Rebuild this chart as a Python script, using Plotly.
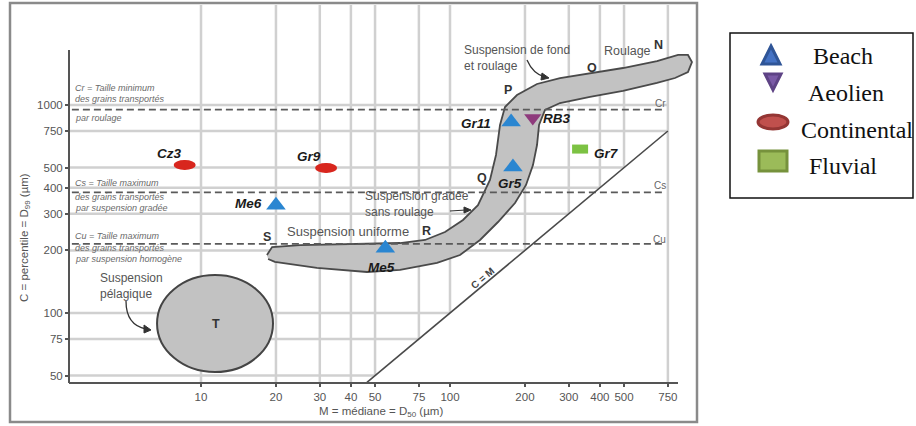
import numpy as np
import plotly.graph_objects as go

# ---------------- data ----------------
beach_names = ["Me6", "Me5", "Gr11", "Gr5"]
beach_M = [20, 55, 176, 179]
beach_C = [330, 205, 829, 503]

aeolien_names = ["RB3"]
aeolien_M = [215]
aeolien_C = [866]

continental_names = ["Cz3", "Gr9"]
continental_M = [8.6, 31.8]
continental_C = [515, 498]

fluvial_names = ["Gr7"]
fluvial_M = [333]
fluvial_C = [614]

x_ticks = [10, 20, 30, 40, 50, 75, 100, 200, 300, 400, 500, 750]
y_ticks = [50, 75, 100, 200, 300, 400, 500, 750, 1000]

Cr_value, Cs_value, Cu_value = 950, 380, 215
line_limits_M = [3.03, 730]          # extent of the Cr / Cs / Cu dashed lines
cm_line_M = [46.4, 750]              # C = M line

# Passega band (outline in M, C values, µm)
band_M = [18.4, 19.3, 25.0, 39.7, 63.0, 79.4, 95.5, 112.8, 129.5, 144.7, 153, 158.8,
          166.3, 185.8, 223.6, 276.6, 365, 495, 678, 824, 903, 937, 903, 801, 678,
          495, 365, 276.6, 240.7, 227.8, 223.6, 215.4, 202, 182.4, 155.9, 132,
          109.7, 88.7, 63.0, 46.4, 29.2, 19.8, 18.6]
band_C = [190, 207.6, 212, 214.6, 217, 224.4, 245, 280, 330, 436, 575, 801,
          978, 1117, 1262, 1348, 1425, 1506, 1627, 1740, 1740, 1609, 1441, 1348, 1276,
          1168, 1093, 1022, 946, 801, 642, 514, 412.6, 338, 273.8, 224.4,
          190, 174, 161, 157.4, 164.6, 176, 181.8]

# pelagic suspension zone T (bounding box, µm)
T_M = [6.66, 19.46]
T_C = [52.0, 152.3]

# ---------------- geometry / style ----------------
W, H = 916, 426
L, R, T, B = 69, 697, 5, 383
PX_DEC_X, PX_DEC_Y = 249, 208
x_range = [1 + (L - 201) / PX_DEC_X, 1 + (R - 201) / PX_DEC_X]
y_range = [3 - (B - 105) / PX_DEC_Y, 3 + (105 - T) / PX_DEC_Y]
C_top = 10 ** y_range[1]
C_bot = 10 ** y_range[0]
M_left = 10 ** x_range[0]


def px(x):
    return (x - L) / (R - L)


def py(y):
    return (B - y) / (B - T)


def P(x, y):
    return f"{px(x):.5f},{py(y):.5f}"


def box(m, c, wpx, hpx):
    fx = 10 ** (wpx / 2 / PX_DEC_X)
    fy = 10 ** (hpx / 2 / PX_DEC_Y)
    return dict(x0=m / fx, x1=m * fx, y0=c / fy, y1=c * fy)


FONT = "Liberation Sans, Arial, sans-serif"
SERIF = "Liberation Serif, Times New Roman, serif"
GRID = "#d0d0d0"
DARK = "#555555"
BAND_FILL = "#c2c2c2"
RED = "#d8261e"
GREEN = "#7cc243"

fig = go.Figure()

shapes = []
# grid (restricted to the C >= M half)
for m in x_ticks:
    y0 = C_bot if m >= 750 else max(m, C_bot)
    shapes.append(dict(type="line", xref="x", yref="y", x0=m, x1=m, y0=y0, y1=C_top,
                       line=dict(color=GRID, width=2.5), layer="below"))
for c in y_ticks:
    shapes.append(dict(type="line", xref="x", yref="y", x0=M_left, x1=min(c, 750), y0=c, y1=c,
                       line=dict(color=GRID, width=2.5), layer="below"))
# T zone
shapes.append(dict(type="circle", xref="x", yref="y", x0=T_M[0], x1=T_M[1], y0=T_C[0], y1=T_C[1],
                   fillcolor=BAND_FILL, line=dict(color="#444", width=2), layer="below"))

# band
fig.add_trace(go.Scatter(x=band_M, y=band_C, mode="lines", fill="toself", fillcolor=BAND_FILL,
                         line=dict(color="#4a4a4a", width=1.8), hoverinfo="skip", showlegend=False))
# dashed limits
for cv in [Cr_value, Cs_value, Cu_value]:
    fig.add_trace(go.Scatter(x=line_limits_M, y=[cv, cv], mode="lines",
                             line=dict(color="#5a5a5a", width=1.6, dash="7px,4px"),
                             hoverinfo="skip", showlegend=False))
# C = M
fig.add_trace(go.Scatter(x=cm_line_M, y=cm_line_M, mode="lines",
                         line=dict(color="#4a4a4a", width=1.6), hoverinfo="skip", showlegend=False))

# markers
fig.add_trace(go.Scatter(x=beach_M, y=beach_C, mode="markers", name="Beach",
                         marker=dict(symbol="triangle-up", size=17, color="#2a86d1", line=dict(width=0)),
                         showlegend=False))
fig.add_trace(go.Scatter(x=aeolien_M, y=aeolien_C, mode="markers", name="Aeolien",
                         marker=dict(symbol="triangle-down", size=15, color="#8e3a7c", line=dict(width=0)),
                         showlegend=False))
fig.add_trace(go.Scatter(x=continental_M, y=continental_C, mode="markers", name="Continental",
                         marker=dict(symbol="circle", size=9, color=RED, line=dict(width=0)),
                         showlegend=False))
fig.add_trace(go.Scatter(x=fluvial_M, y=fluvial_C, mode="markers", name="Fluvial",
                         marker=dict(symbol="square", size=8, color=GREEN, line=dict(width=0)),
                         showlegend=False))
for m, c in zip(continental_M, continental_C):
    shapes.append(dict(type="circle", xref="x", yref="y", **box(m, c, 22, 10),
                       fillcolor=RED, line=dict(width=0), layer="above"))
for m, c in zip(fluvial_M, fluvial_C):
    shapes.append(dict(type="rect", xref="x", yref="y", **box(m, c, 16, 9),
                       fillcolor=GREEN, line=dict(width=0), layer="above"))

# axis lines
shapes.append(dict(type="line", xref="paper", yref="paper", x0=px(69), x1=px(678), y0=py(383), y1=py(383),
                   line=dict(color=DARK, width=2), layer="above"))
shapes.append(dict(type="line", xref="paper", yref="paper", x0=px(69), x1=px(69), y0=py(383), y1=py(50),
                   line=dict(color=DARK, width=2), layer="above"))
# frame
shapes.append(dict(type="rect", xref="paper", yref="paper", x0=px(10), x1=px(697), y0=py(422), y1=py(3),
                   line=dict(color="#8a8a8a", width=2.5), layer="above"))
# curved arrows
shapes.append(dict(type="path", xref="paper", yref="paper",
                   path=f"M{P(527,60)} Q{P(533,74)} {P(545,77)}", line=dict(color="#333", width=1.3)))
shapes.append(dict(type="path", xref="paper", yref="paper",
                   path=f"M{P(549,78)} L{P(542,73)} L{P(541,80)} Z", fillcolor="#333", line=dict(color="#333", width=1)))
shapes.append(dict(type="path", xref="paper", yref="paper",
                   path=f"M{P(126,301)} Q{P(126,325)} {P(146,329)}", line=dict(color="#333", width=1.3)))
shapes.append(dict(type="path", xref="paper", yref="paper",
                   path=f"M{P(151,330)} L{P(144,325)} L{P(144,333)} Z", fillcolor="#333", line=dict(color="#333", width=1)))
shapes.append(dict(type="path", xref="paper", yref="paper",
                   path=f"M{P(450,211)} L{P(466,210)}", line=dict(color="#333", width=1.2)))
shapes.append(dict(type="path", xref="paper", yref="paper",
                   path=f"M{P(471,210)} L{P(464,207)} L{P(464,213)} Z", fillcolor="#333", line=dict(color="#333", width=1)))

# legend box and symbols
shapes.append(dict(type="rect", xref="paper", yref="paper", x0=px(730), x1=px(913), y0=py(198), y1=py(33),
                   line=dict(color="#111", width=1.5), fillcolor="white", layer="above"))
shapes.append(dict(type="path", xref="paper", yref="paper",
                   path=f"M{P(771,46)} L{P(780,64)} L{P(762,64)} Z", fillcolor="#4472c4",
                   line=dict(color="#2f5597", width=3), layer="above"))
shapes.append(dict(type="path", xref="paper", yref="paper",
                   path=f"M{P(765,74)} L{P(781,74)} L{P(773,90)} Z", fillcolor="#7a5aa6",
                   line=dict(color="#5e4385", width=3), layer="above"))
shapes.append(dict(type="circle", xref="paper", yref="paper", x0=px(758), x1=px(788), y0=py(129), y1=py(115),
                   fillcolor="#c0504d", line=dict(color="#943634", width=3), layer="above"))
shapes.append(dict(type="rect", xref="paper", yref="paper", x0=px(759), x1=px(787), y0=py(171), y1=py(151),
                   fillcolor="#9bbb59", line=dict(color="#76923c", width=3), layer="above"))

annotations = []


def txt(x, y, s, size=11, color="#444", anchor="left", bold=False, italic=False, font=FONT, angle=0,
        align="left"):
    if bold:
        s = f"<b>{s}</b>"
    if italic:
        s = f"<i>{s}</i>"
    annotations.append(dict(x=px(x), y=py(y), xref="paper", yref="paper", text=s, showarrow=False,
                            xanchor=anchor, yanchor="middle", textangle=angle, align=align,
                            font=dict(family=font, size=size, color=color)))


# limit definitions
defs = [("Cr = Taille minimum", 88), ("des grains transportés", 99), ("par roulage", 118),
        ("Cs = Taille maximum", 183), ("des grains transportés", 197), ("par suspension gradée", 208),
        ("Cu = Taille maximum", 236), ("des grains transportés", 248), ("par suspension homogène", 259)]
for s, y in defs:
    txt(73, y, s, size=9, color="#6a6a6a", italic=True)
txt(668, 104, "Cr", size=10, color="#666", anchor="right")
txt(668, 185, "Cs", size=10, color="#666", anchor="right")
txt(668, 239, "Cu", size=10, color="#666", anchor="right")

for s, x, y in [("N", 658, 45), ("O", 592, 68), ("P", 508, 90), ("Q", 482, 178),
                ("R", 426, 231), ("S", 267, 237), ("T", 216, 324)]:
    txt(x, y, s, size=12.5, color="#333", anchor="center", bold=True)

LBL = 12
txt(627, 51, "Roulage", size=12.5, color="#555", anchor="center")
txt(462, 58, "Suspension de fond<br>et roulage", size=LBL, color="#555")
txt(363, 204, "Suspension gradée<br>sans roulage", size=LBL, color="#555")
txt(348, 232, "Suspension uniforme", size=13, color="#555", anchor="center")
txt(98, 286, "Suspension<br>pélagique", size=LBL, color="#555")
txt(482, 278, "C = M", size=10, color="#444", anchor="center", bold=True, angle=-40)

txt(25, 238, "C = percentile = D<sub>99</sub> (µm)", size=11.5, color="#555", anchor="center", angle=-90)
txt(381, 412, "M = médiane = D<sub>50</sub> (µm)", size=11.5, color="#555", anchor="center")

# legend text
txt(811, 56, "Beach", size=24, color="#111", font=SERIF)
txt(806, 93, "Aeolien", size=24, color="#111", font=SERIF)
txt(799, 130, "Continental", size=24, color="#111", font=SERIF)
txt(807, 166, "Fluvial", size=24, color="#111", font=SERIF)

# sample labels (pixel offsets from the point)
label_offsets = {
    "Me6": ("right", -12, 2), "Me5": ("center", -4, -19), "Gr11": ("right", -18, -2),
    "Gr5": ("center", -3, -16), "RB3": ("left", 8, 0), "Cz3": ("center", -16, 11),
    "Gr9": ("center", -17, 11), "Gr7": ("left", 12, -4),
}
for names, Ms, Cs_ in [(beach_names, beach_M, beach_C), (aeolien_names, aeolien_M, aeolien_C),
                       (continental_names, continental_M, continental_C), (fluvial_names, fluvial_M, fluvial_C)]:
    for n, m, c in zip(names, Ms, Cs_):
        a, dx, dy = label_offsets[n]
        annotations.append(dict(x=np.log10(m), y=np.log10(c), xref="x", yref="y", text=f"<b><i>{n}</i></b>",
                                showarrow=False, xanchor=a, yanchor="middle", xshift=dx, yshift=dy,
                                font=dict(family=FONT, size=13.5, color="#1a1a1a")))

fig.update_layout(
    width=W, height=H,
    margin=dict(l=L, r=W - R, t=T, b=H - B, pad=0),
    paper_bgcolor="white", plot_bgcolor="white",
    showlegend=False,
    shapes=shapes, annotations=annotations,
    xaxis=dict(type="log", range=x_range, tickmode="array", tickvals=x_ticks,
               ticktext=[str(v) for v in x_ticks], showgrid=False, zeroline=False, showline=False,
               ticks="outside", ticklen=3, tickcolor=DARK, tickwidth=1.5,
               tickfont=dict(family=FONT, size=11.5, color="#555")),
    yaxis=dict(type="log", range=y_range, tickmode="array", tickvals=y_ticks,
               ticktext=[str(v) for v in y_ticks], showgrid=False, zeroline=False, showline=False,
               ticks="outside", ticklen=3, tickcolor=DARK, tickwidth=1.5,
               tickfont=dict(family=FONT, size=11.5, color="#555")),
)

fig.write_html("out.html", config={"displayModeBar": False},
               post_script="document.body.style.margin='0px';")
